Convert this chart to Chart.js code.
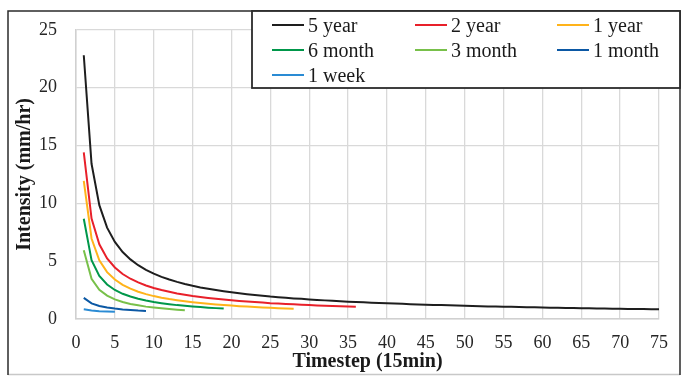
<!DOCTYPE html>
<html>
<head>
<meta charset="utf-8">
<script src="https://cdn.jsdelivr.net/npm/chart.js@4.4.1/dist/chart.umd.min.js"></script>
<style>
  html, body { margin: 0; padding: 0; background: #ffffff; }
  canvas { display: block; }
</style>
</head>
<body>
<canvas id="idf" width="688" height="376"></canvas>
<script>
// Rainfall intensity (mm/hr) per 15-minute timestep, one list per return period
const seriesNames = ['5 year', '2 year', '1 year', '6 month', '3 month', '1 month', '1 week'];

const year5 = [22.8, 13.42, 9.84, 7.90, 6.66, 5.79, 5.15, 4.65, 4.25, 3.92,
  3.64, 3.41, 3.21, 3.03, 2.87, 2.73, 2.61, 2.50, 2.40, 2.31,
  2.22, 2.14, 2.07, 2.01, 1.94, 1.89, 1.83, 1.78, 1.74, 1.69,
  1.65, 1.61, 1.57, 1.54, 1.50, 1.47, 1.44, 1.41, 1.38, 1.36,
  1.33, 1.31, 1.28, 1.26, 1.24, 1.22, 1.20, 1.18, 1.16, 1.14,
  1.13, 1.11, 1.09, 1.08, 1.06, 1.05, 1.03, 1.02, 1.01, 0.99,
  0.98, 0.97, 0.96, 0.95, 0.94, 0.93, 0.91, 0.90, 0.89, 0.88,
  0.87, 0.87, 0.86, 0.85, 0.84];
const year2 = [14.4, 8.68, 6.46, 5.23, 4.45, 3.89, 3.48, 3.16, 2.90, 2.68,
  2.50, 2.35, 2.21, 2.10, 1.99, 1.90, 1.82, 1.75, 1.68, 1.62,
  1.56, 1.51, 1.46, 1.42, 1.37, 1.34, 1.30, 1.27, 1.23, 1.20,
  1.17, 1.15, 1.12, 1.10, 1.07, 1.05];
const year1 = [11.95, 6.96, 5.07, 4.05, 3.41, 2.95, 2.62, 2.36, 2.15, 1.98,
  1.84, 1.72, 1.62, 1.53, 1.45, 1.38, 1.31, 1.25, 1.20, 1.16,
  1.11, 1.07, 1.04, 1.00, 0.97, 0.94, 0.91, 0.89];
const month6 = [8.67, 5.08, 3.72, 2.98, 2.51, 2.18, 1.94, 1.75, 1.60, 1.47,
  1.37, 1.28, 1.20, 1.14, 1.08, 1.03, 0.98, 0.94, 0.90];
const month3 = [5.95, 3.47, 2.53, 2.02, 1.70, 1.47, 1.30, 1.18, 1.07, 0.99,
  0.92, 0.86, 0.81, 0.76];
const month1 = [1.83, 1.35, 1.13, 0.99, 0.90, 0.83, 0.78, 0.73, 0.70];
const week1 = [0.84, 0.74, 0.68, 0.65, 0.62];

const seriesValues = [year5, year2, year1, month6, month3, month1, week1];
const seriesColors = ['#1e1e1e', '#e8202a', '#ffb31a', '#00974a', '#78c04a', '#0b58a4', '#2a8bd4'];

// each series starts at timestep 1
const toPoints = vals => vals.map((v, i) => ({ x: i + 1, y: v }));

const serif = '"Liberation Serif", "Times New Roman", serif';

// white background plus the outer frame
const framePlugin = {
  id: 'frame',
  beforeDraw(chart) {
    const ctx = chart.ctx;
    ctx.save();
    ctx.fillStyle = '#ffffff';
    ctx.fillRect(0, 0, chart.width, chart.height);
    ctx.restore();
  },
  afterDraw(chart) {
    const ctx = chart.ctx;
    ctx.save();
    ctx.lineWidth = 1.5;
    ctx.strokeStyle = '#c8c8c8';
    ctx.beginPath();
    ctx.moveTo(8, 374.5); ctx.lineTo(680, 374.5);
    ctx.stroke();
    ctx.strokeStyle = '#2b2b2b';
    ctx.beginPath();
    ctx.moveTo(8, 375); ctx.lineTo(8, 11); ctx.lineTo(680, 11); ctx.lineTo(680, 375);
    ctx.stroke();
    ctx.restore();
  }
};

// boxed three-column legend drawn over the top-right of the plot
const boxLegendPlugin = {
  id: 'boxLegend',
  afterDraw(chart) {
    const ctx = chart.ctx;
    const box = { l: 252, t: 11, r: 680, b: 88 };
    const cols = [272, 415, 557];
    const rows = [25, 50, 75];
    ctx.save();
    ctx.fillStyle = '#ffffff';
    ctx.fillRect(box.l, box.t, box.r - box.l, box.b - box.t);
    ctx.lineWidth = 1.8;
    ctx.strokeStyle = '#2b2b2b';
    ctx.strokeRect(box.l, box.t, box.r - box.l, box.b - box.t);
    ctx.font = '20px ' + serif;
    ctx.textBaseline = 'alphabetic';
    ctx.textAlign = 'left';
    chart.data.datasets.forEach((ds, i) => {
      const x = cols[i % 3];
      const y = rows[Math.floor(i / 3)];
      ctx.strokeStyle = ds.borderColor;
      ctx.lineWidth = 2;
      ctx.beginPath();
      ctx.moveTo(x, y);
      ctx.lineTo(x + 32, y);
      ctx.stroke();
      ctx.fillStyle = '#1a1a1a';
      ctx.fillText(ds.label, x + 36, y + 6.8);
    });
    ctx.restore();
  }
};

new Chart(document.getElementById('idf'), {
  type: 'line',
  data: {
    datasets: seriesNames.map((name, i) => ({
      label: name,
      data: toPoints(seriesValues[i]),
      borderColor: seriesColors[i],
      backgroundColor: seriesColors[i],
      borderWidth: 2,
      pointRadius: 0,
      tension: 0,
      fill: false
    }))
  },
  options: {
    responsive: false,
    devicePixelRatio: 1,
    animation: false,
    layout: { padding: { left: 8, top: 22, right: 29, bottom: 2 } },
    plugins: {
      legend: { display: false },
      tooltip: { enabled: false }
    },
    scales: {
      x: {
        type: 'linear',
        min: 0,
        max: 75,
        afterFit(scale) { scale.height = 55; },
        ticks: {
          stepSize: 5,
          padding: 13,
          color: '#262626',
          font: { family: serif, size: 18 }
        },
        grid: { color: '#d9d9d9', lineWidth: 1.3, drawTicks: false },
        border: { color: '#d0d0d0', width: 1.5 },
        title: {
          display: true,
          text: 'Timestep (15min)',
          color: '#1a1a1a',
          font: { family: serif, size: 20, weight: 'bold' },
          padding: { top: 0, bottom: 0 }
        }
      },
      y: {
        type: 'linear',
        min: 0,
        max: 25,
        afterFit(scale) { scale.width = 68; },
        ticks: {
          stepSize: 5,
          padding: 19,
          color: '#262626',
          font: { family: serif, size: 18 }
        },
        grid: { color: '#d9d9d9', lineWidth: 1.3, drawTicks: false },
        border: { color: '#d0d0d0', width: 1.5 },
        title: {
          display: true,
          text: 'Intensity (mm/hr)',
          color: '#1a1a1a',
          font: { family: serif, size: 20, weight: 'bold' },
          padding: { top: 5, bottom: 0 }
        }
      }
    }
  },
  plugins: [framePlugin, boxLegendPlugin]
});
</script>
</body>
</html>
